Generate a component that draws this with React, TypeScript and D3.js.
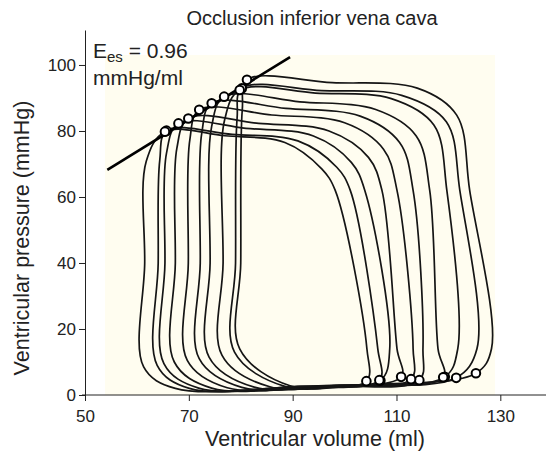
import React, { useEffect, useRef } from 'react';
import * as d3 from 'd3';

// axis ticks
const xTicks = [50, 70, 90, 110, 130];
const yTicks = [0, 20, 40, 60, 80, 100];

// one entry per loop, largest (pre-occlusion) first
const esv = [81.2, 80.2, 79.8, 76.8, 74.4, 72.0, 69.9, 68.0, 65.7, 65.4];
const esp = [95.5, 92.9, 92.4, 90.4, 88.4, 86.4, 83.8, 82.3, 80.1, 79.8];
const edv = [125.3, 121.5, 119.3, 119.0, 114.4, 112.8, 110.9, 106.9, 106.7, 104.2];
const edp = [6.6, 5.2, 5.5, 5.4, 4.5, 4.8, 5.5, 4.4, 4.5, 4.2];
const shoulderV = [114, 111, 109, 106, 103, 100, 97, 94, 91, 88.5];
const shoulderP = [93, 90.8, 89.8, 86.5, 84.5, 82.5, 80, 78.5, 77, 76.5];
const kneeV = [121.6, 119.6, 117.2, 113.8, 110.6, 107.5, 104.6, 101.3, 98.5, 95.6];
const kneeP = [84.8, 82.8, 81.8, 78.5, 76.5, 74.5, 72, 70.5, 69, 68.5];
const midV = [124.1, 122.2, 119.7, 116.4, 113.2, 110.1, 107.2, 103.9, 101.1, 98.2]; // at ~62 mmHg
const lowV = [128.3, 125.5, 121.8, 118.0, 115.1, 113.2, 110.1, 108.7, 106.4, 104.3]; // at ~14 mmHg
const relaxV = [80.0, 79.0, 76.6, 74.1, 72.2, 69.9, 67.4, 65.4, 64.1, 61.5];
const relaxKneeP = [14, 13, 12, 11.5, 11, 10.5, 10, 9.5, 9, 8.5];
const bottomV = [89.5, 88.5, 85.6, 82.6, 80.2, 77.4, 74.4, 71.9, 70.1, 67.4];
const bottomP = [2.8, 2.6, 2.5, 2.4, 2.3, 2.2, 2.1, 2.1, 2.0, 2.0];
const fillV = [104, 102, 100, 99, 97, 96, 94, 92, 91, 90];
const fillP = [3.2, 3.0, 3.0, 2.9, 2.8, 2.8, 2.7, 2.6, 2.6, 2.5];

// end-systolic pressure-volume relation
const espvrV = [54.3, 89.5];
const espvrP = [68.2, 102.4];

const W = 546;
const H = 458;
const FONT = '"Liberation Sans", Arial, Helvetica, sans-serif';

export default function App() {
  const ref = useRef<SVGSVGElement>(null);

  useEffect(() => {
    const svg = d3.select(ref.current);
    svg.selectAll('*').remove();

    const x = d3.scaleLinear().domain([50, 138.8]).range([85, 546]);
    const y = d3.scaleLinear().domain([0, 110.6]).range([395, 30]);

    // pale plot background
    svg.append('rect')
      .attr('x', 105).attr('y', 55)
      .attr('width', 390).attr('height', 340)
      .attr('fill', '#fffdf0');

    const gx = svg.append('g').attr('transform', 'translate(0,395)')
      .call(d3.axisBottom(x).tickValues(xTicks).tickSize(6).tickSizeOuter(0));
    const gy = svg.append('g').attr('transform', 'translate(85,0)')
      .call(d3.axisLeft(y).tickValues(yTicks).tickSize(6).tickSizeOuter(0));
    [gx, gy].forEach((g) => {
      g.selectAll('text').attr('font-size', 17).attr('font-family', FONT).attr('fill', '#222');
      g.selectAll('line, path').attr('stroke', '#222');
    });
    gx.select('.domain').attr('d', 'M82,0H546');
    gx.selectAll('text').attr('dy', '1.05em');

    const line = d3.line<[number, number]>()
      .x((d) => x(d[0]))
      .y((d) => y(d[1]))
      .curve(d3.curveCatmullRomClosed.alpha(0.5));

    const loops = esv.map((_, i) => {
      const pts: [number, number][] = [
        [edv[i], edp[i]],
        [lowV[i], 14],
        [midV[i], 62],
        [kneeV[i], kneeP[i]],
        [shoulderV[i], shoulderP[i]],
        [(esv[i] + shoulderV[i]) / 2, (esp[i] + shoulderP[i]) / 2 + 0.4],
        [esv[i], esp[i]],
        [relaxV[i] + 0.3, esp[i] - 9],
        [relaxV[i], 40],
        [relaxV[i] - 0.2, relaxKneeP[i]],
        [bottomV[i], bottomP[i]],
        [fillV[i], fillP[i]],
      ];
      return pts;
    });

    svg.append('g')
      .selectAll('path')
      .data(loops)
      .join('path')
      .attr('d', (d) => line(d))
      .attr('fill', 'none')
      .attr('stroke', '#151515')
      .attr('stroke-width', 1.7);

    svg.append('line')
      .attr('x1', x(espvrV[0])).attr('y1', y(espvrP[0]))
      .attr('x2', x(espvrV[1])).attr('y2', y(espvrP[1]))
      .attr('stroke', '#000').attr('stroke-width', 2.6);

    const marks = esv.map((v, i) => [v, esp[i]]).concat(edv.map((v, i) => [v, edp[i]]));
    svg.append('g')
      .selectAll('circle')
      .data(marks)
      .join('circle')
      .attr('cx', (d) => x(d[0]))
      .attr('cy', (d) => y(d[1]))
      .attr('r', 4.3)
      .attr('fill', '#fff')
      .attr('stroke', '#000')
      .attr('stroke-width', 2);

    svg.append('text')
      .attr('x', 312).attr('y', 25)
      .attr('text-anchor', 'middle')
      .attr('font-size', 20).attr('font-family', FONT).attr('fill', '#222')
      .text('Occlusion inferior vena cava');

    const ann = svg.append('text')
      .attr('x', 93).attr('y', 58)
      .attr('font-size', 21).attr('font-family', FONT).attr('fill', '#222');
    ann.append('tspan').text('E');
    ann.append('tspan').attr('font-size', 15).attr('dy', 4).text('es');
    ann.append('tspan').attr('dy', -4).text(' = 0.96');
    svg.append('text')
      .attr('x', 93).attr('y', 85)
      .attr('font-size', 21).attr('font-family', FONT).attr('fill', '#222')
      .text('mmHg/ml');

    svg.append('text')
      .attr('x', 315).attr('y', 446)
      .attr('text-anchor', 'middle')
      .attr('font-size', 21.5).attr('font-family', FONT).attr('fill', '#222')
      .text('Ventricular volume (ml)');

    svg.append('text')
      .attr('transform', 'translate(29,238) rotate(-90)')
      .attr('text-anchor', 'middle')
      .attr('font-size', 21.5).attr('font-family', FONT).attr('fill', '#222')
      .text('Ventricular pressure (mmHg)');
  }, []);

  return (
    <svg
      ref={ref}
      width={W}
      height={H}
      style={{ position: 'absolute', left: 0, top: 0, background: '#fff' }}
    />
  );
}
